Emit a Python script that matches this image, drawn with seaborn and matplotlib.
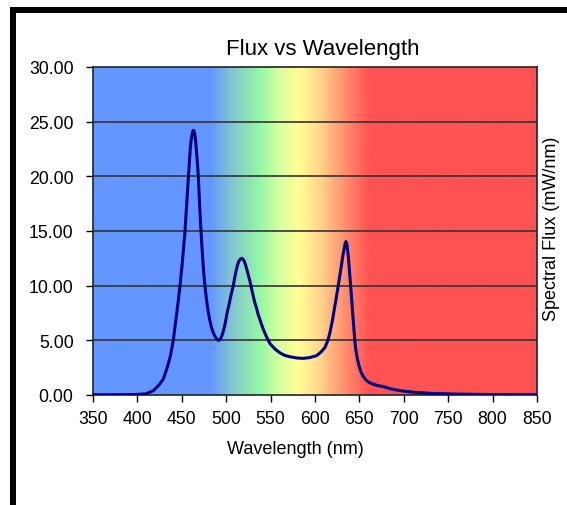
import numpy as np
import seaborn as sns
import matplotlib
matplotlib.use("Agg")
import matplotlib.pyplot as plt
from matplotlib.colors import LinearSegmentedColormap
from matplotlib.patches import Rectangle

# spectrum (wavelength in nm, flux in mW/nm)
wavelength = [350, 380, 400, 410, 418, 423.6, 429.2, 434, 437.5, 440.4, 442, 444,
              446, 448, 449.5, 451, 452.3, 453.6, 455.5, 457.4, 458.5, 459.5,
              460.5, 461.5, 462.3, 463, 463.7, 464.5, 465.5, 466.5, 467.6, 468.6,
              470, 471.6, 473.5, 474.7, 476, 478, 480, 481.5, 483, 484.5, 486,
              487.5, 489, 490.3, 491.5, 492.7, 494, 495.5, 497, 499, 501, 503,
              504.5, 506.3, 508, 509.5, 511, 512.5, 514, 515.8, 517.5, 519,
              520.5, 522, 523.5, 525.2, 526.8, 528.4, 530, 532, 534.3, 536, 538,
              540, 541.8, 545.5, 549.3, 555, 560.6, 566, 571.8, 580, 586.8, 594,
              601.9, 607, 611.3, 614.5, 616.9, 619.8, 622.5, 625, 627.4, 628.7,
              630, 631.4, 632.7, 633.8, 634.9, 635.9, 636.8, 637.8, 638.7, 639.7,
              640.6, 641.5, 642.4, 643.1, 643.8, 644.4, 645, 646.2, 647.5, 649,
              650.7, 652.3, 654, 656, 658.2, 661, 665, 670, 676.9, 686, 695.7,
              710, 730, 760, 800, 850]
flux = [0.02, 0.03, 0.05, 0.12, 0.4, 0.85, 1.46, 2.62, 3.7, 5.0, 6.0, 7.3,
        8.6, 10.0, 11.2, 12.5, 13.7, 15.0, 17.5, 20.0, 21.3, 22.5,
        23.3, 23.8, 24.1, 24.2, 24.15, 23.9, 23.3, 22.3, 21.2, 20.0,
        17.5, 15.0, 12.5, 11.2, 10.0, 8.6, 7.5, 6.85, 6.3, 5.9, 5.6,
        5.35, 5.15, 5.04, 5.0, 5.05, 5.2, 5.5, 5.9, 6.6, 7.5, 8.2,
        8.8, 9.45, 10.0, 10.7, 11.3, 11.8, 12.2, 12.42, 12.5, 12.42,
        12.2, 11.85, 11.4, 10.9, 10.4, 9.8, 9.2, 8.5, 7.9, 7.35, 6.9,
        6.4, 6.0, 5.3, 4.7, 4.2, 3.85, 3.62, 3.5, 3.38, 3.35, 3.42,
        3.6, 3.95, 4.36, 5.0, 5.73, 6.9, 8.17, 9.4, 10.6, 11.3,
        12.0, 12.75, 13.35, 13.8, 14.03, 13.8, 13.2, 12.4, 11.5, 10.5,
        9.5, 8.5, 7.56, 6.8, 6.1, 5.45, 4.82, 4.0, 3.4, 2.85,
        2.38, 2.0, 1.75, 1.5, 1.31, 1.15, 1.0, 0.88, 0.76, 0.55, 0.4,
        0.26, 0.15, 0.08, 0.04, 0.02]

x_ticks = [350, 400, 450, 500, 550, 600, 650, 700, 750, 800, 850]
y_ticks = [0, 5, 10, 15, 20, 25, 30]

# background spectrum colours
band_nm = [350, 482, 505, 538, 560, 581, 605, 635, 662, 850]
band_colors = ["#6496FF", "#6496FF", "#82C4D2", "#96F8A4", "#D7FFA0",
               "#FFFF96", "#FFD78C", "#FF8C6E", "#FF5252", "#FF5252"]

sns.set_style("ticks")
plt.rcParams['font.family'] = ['Liberation Sans', 'DejaVu Sans']
plt.rcParams['text.color'] = 'black'
plt.rcParams['xtick.color'] = 'black'
plt.rcParams['ytick.color'] = 'black'

fig = plt.figure(figsize=(5.67, 5.06), dpi=100)
ax = fig.add_axes([93 / 567, 110 / 506, 444 / 567, 328 / 506])

lo, hi = band_nm[0], band_nm[-1]
stops = [((b - lo) / (hi - lo), c) for b, c in zip(band_nm, band_colors)]
cmap = LinearSegmentedColormap.from_list("spec", stops)
ax.imshow(np.linspace(0, 1, 1000)[None, :], cmap=cmap, aspect="auto",
          extent=[350, 850, 0, 30], zorder=0, interpolation="bilinear")

for yv in y_ticks[1:-1]:
    ax.axhline(yv, color="#333333", lw=1.2, zorder=1)

sns.lineplot(x=wavelength, y=flux, ax=ax, color="#000080", lw=2.2, sort=False, zorder=3)
ax.lines[-1].set_solid_joinstyle("round")

ax.set_xlim(350, 850)
ax.set_ylim(0, 30)
ax.set_xticks(x_ticks)
ax.set_yticks(y_ticks)
ax.set_yticklabels([f"{v:.2f}" for v in y_ticks])
ax.tick_params(axis="both", labelsize=12.7, length=5, width=1, color="black",
               labelcolor="black", direction="out", pad=6)
ax.tick_params(axis="y", pad=9)
for s in ax.spines.values():
    s.set_visible(True)
    s.set_color("#222222")
    s.set_linewidth(1.2)
ax.set_xlabel("")
ax.set_ylabel("")

fig.text(323 / 567, 1 - 49 / 506, "Flux vs Wavelength", ha="center", va="center", fontsize=16)
fig.text(295 / 567, 1 - 450 / 506, "Wavelength (nm)", ha="center", va="center", fontsize=13)
fig.text(551.5 / 567, 1 - 229 / 506, "Spectral Flux (mW/nm)", ha="center", va="center",
         rotation=90, fontsize=13)

# black frame on the left and top edges
fig.add_artist(Rectangle((10 / 567, 0), 6 / 567, 498 / 506, transform=fig.transFigure,
                         color="black", lw=0))
fig.add_artist(Rectangle((10 / 567, 492 / 506), 557 / 567, 6 / 506, transform=fig.transFigure,
                         color="black", lw=0))

fig.savefig("out.png", dpi=100)
plt.close(fig)
